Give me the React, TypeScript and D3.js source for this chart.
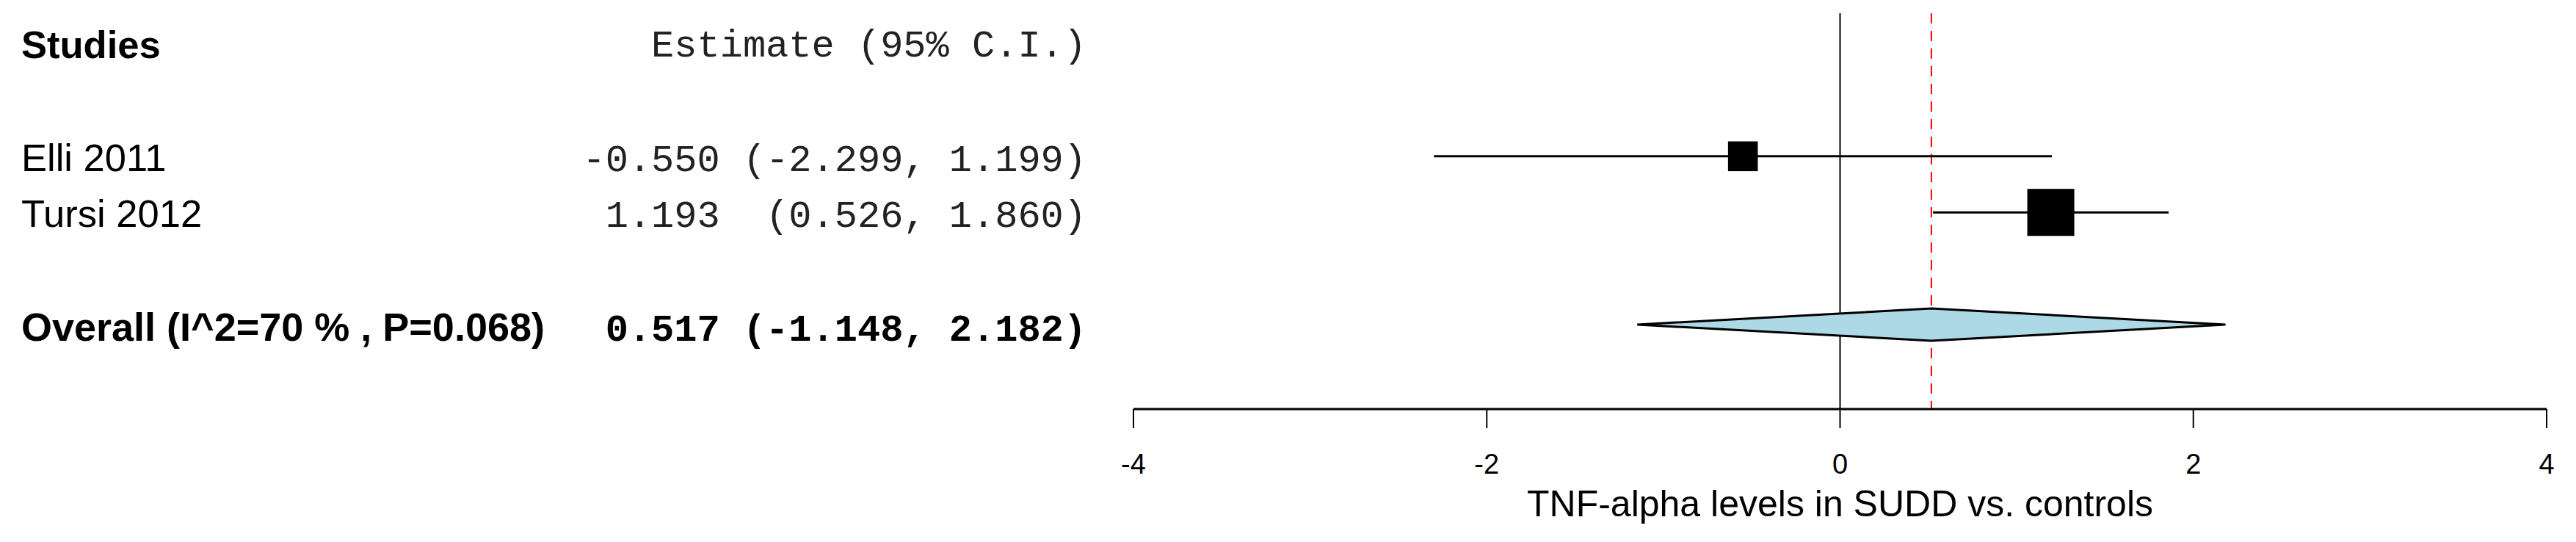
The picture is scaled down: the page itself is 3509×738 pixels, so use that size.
import React from "react";
import * as d3 from "d3";

const studies = ["Elli 2011", "Tursi 2012"];
const estimates = [-0.55, 1.193];
const lowers = [-2.299, 0.526];
const uppers = [1.199, 1.86];
const weights = [38.8, 61.2];
const estimateLabels = ["-0.550 (-2.299, 1.199)", "1.193  (0.526, 1.860)"];

const overallLabel = "Overall (I^2=70 % , P=0.068)";
const overallEstimate = 0.517;
const overallLower = -1.148;
const overallUpper = 2.182;
const overallText = "0.517 (-1.148, 2.182)";

const xTicks = [-4, -2, 0, 2, 4];
const xTitle = "TNF-alpha levels in SUDD vs. controls";

const W = 3509;
const H = 738;

export default function App() {
  const x = d3.scaleLinear().domain([-4, 4]).range([1544, 3469]);
  const y = d3.scaleLinear().domain([0, 5]).range([60, 442]);
  const box = d3.scaleLinear().domain([0, d3.max(weights) as number]).range([0, 64]);

  const sans = "'Liberation Sans', Arial, sans-serif";
  const mono = "'Liberation Mono', 'Courier New', monospace";
  const fs = 52.5;
  const monoFs = 52;
  const textRight = 1480;
  const axisY = 557;
  const topY = 18;

  const studyRows = [2, 3];
  const overallRow = 5;
  const yc = y(overallRow);
  const diamond = [
    [x(overallLower), yc],
    [x(overallEstimate), yc - 22],
    [x(overallUpper), yc],
    [x(overallEstimate), yc + 22],
  ];

  return (
    <svg
      width={W}
      height={H}
      style={{ position: "absolute", left: 0, top: 0, background: "#fff" }}
    >
      <rect x={0} y={0} width={W} height={H} fill="#fff" />
      {/* header */}
      <text x={29} y={y(0) + 19} fontFamily={sans} fontWeight="bold" fontSize={fs}>
        Studies
      </text>
      <text
        x={textRight}
        y={y(0) + 17}
        fontFamily={mono}
        fontSize={monoFs}
        textAnchor="end"
        fill="#222"
        style={{ whiteSpace: "pre" }}
      >
        Estimate (95% C.I.)
      </text>

      {/* study rows text */}
      {studies.map((s, i) => (
        <g key={s}>
          <text x={29} y={y(studyRows[i]) + 20} fontFamily={sans} fontSize={fs}>
            {s}
          </text>
          <text
            x={textRight}
            y={y(studyRows[i]) + 20}
            fontFamily={mono}
            fontSize={monoFs}
            textAnchor="end"
            fill="#222"
            style={{ whiteSpace: "pre" }}
          >
            {estimateLabels[i]}
          </text>
        </g>
      ))}

      {/* overall text */}
      <text x={29} y={yc + 22} fontFamily={sans} fontWeight="bold" fontSize={54}>
        {overallLabel}
      </text>
      <text
        x={textRight}
        y={yc + 22}
        fontFamily={mono}
        fontWeight="bold"
        fontSize={monoFs}
        textAnchor="end"
        style={{ whiteSpace: "pre" }}
      >
        {overallText}
      </text>

      {/* zero line */}
      <line x1={x(0)} x2={x(0)} y1={topY} y2={axisY} stroke="#000" strokeWidth={2} />
      {/* overall dashed line */}
      <line
        x1={x(overallEstimate)}
        x2={x(overallEstimate)}
        y1={topY}
        y2={axisY}
        stroke="#ff0000"
        strokeWidth={2}
        strokeDasharray="14,10"
      />

      {/* studies CIs and boxes */}
      {studies.map((s, i) => {
        const cy = y(studyRows[i]);
        const sz = box(weights[i]);
        return (
          <g key={"m" + s}>
            <line
              x1={x(lowers[i])}
              x2={x(uppers[i])}
              y1={cy}
              y2={cy}
              stroke="#000"
              strokeWidth={3}
            />
            <rect x={x(estimates[i]) - sz / 2} y={cy - sz / 2} width={sz} height={sz} fill="#000" />
          </g>
        );
      })}

      {/* diamond */}
      <polygon
        points={diamond.map((p) => p.join(",")).join(" ")}
        fill="#add8e6"
        stroke="#000"
        strokeWidth={3}
        strokeLinejoin="miter"
      />

      {/* axis */}
      <line x1={x(-4)} x2={x(4)} y1={axisY} y2={axisY} stroke="#000" strokeWidth={3} />
      {xTicks.map((t) => (
        <g key={t}>
          <line x1={x(t)} x2={x(t)} y1={axisY} y2={axisY + 26} stroke="#000" strokeWidth={2} />
          <text x={x(t)} y={645} fontFamily={sans} fontSize={38} textAnchor="middle">
            {String(t)}
          </text>
        </g>
      ))}
      <text x={x(0)} y={703} fontFamily={sans} fontSize={50} textAnchor="middle">
        {xTitle}
      </text>
    </svg>
  );
}
